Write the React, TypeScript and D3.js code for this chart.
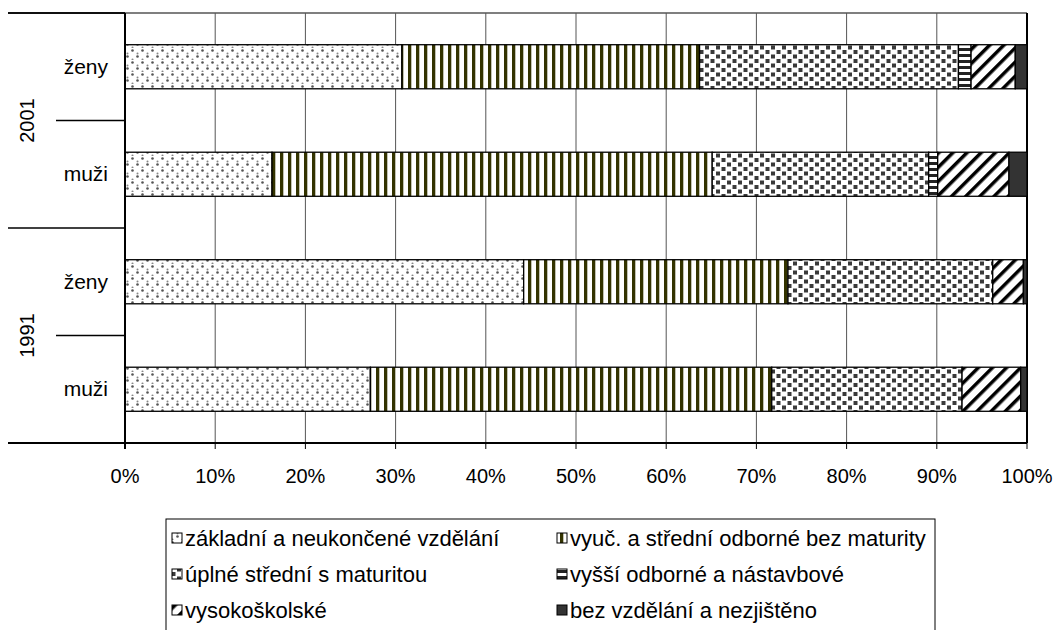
import React from "react";
import * as d3 from "d3";

const categories = ["2001|ženy", "2001|muži", "1991|ženy", "1991|muži"];
const years = ["2001", "1991"];
const seriesNames = [
  "základní a neukončené vzdělání",
  "vyuč. a střední odborné bez maturity",
  "úplné střední s maturitou",
  "vyšší odborné a nástavbové",
  "vysokoškolské",
  "bez vzdělání a nezjištěno",
];
const zakladni = [30.7, 16.3, 44.2, 27.2];
const vyucni = [33.0, 48.8, 29.3, 44.5];
const uplne = [28.7, 24.0, 22.7, 21.1];
const vyssi = [1.4, 1.0, 0.0, 0.0];
const vysoko = [4.9, 7.9, 3.4, 6.5];
const bez = [1.3, 2.0, 0.4, 0.7];
const tickValues = [0, 10, 20, 30, 40, 50, 60, 70, 80, 90, 100];

const seriesValues = [zakladni, vyucni, uplne, vyssi, vysoko, bez];
const patternIds = ["pDots", "pVert", "pCheck", "pHoriz", "pDiag", "pDark"];

const FONT = "'Liberation Sans', Arial, sans-serif";

export default function App() {
  const W = 1056;
  const H = 630;
  const x = d3.scaleLinear().domain([0, 100]).range([125, 1027]);
  const y = d3
    .scaleBand<string>()
    .domain(categories)
    .range([13, 443])
    .paddingInner(0.59)
    .paddingOuter(0.295);

  const rows = categories.map((c, i) => {
    const obj: any = { cat: c };
    seriesValues.forEach((s, k) => (obj["s" + k] = s[i]));
    return obj;
  });
  const stack = d3.stack<any>().keys(seriesValues.map((_, k) => "s" + k));
  const stacked = stack(rows);

  const step = y.step();
  const top = 13;
  const bottom = 443;

  const legendCols = [172, 557];
  const legendRows = [538, 574, 610];

  return (
    <svg width={W} height={H} style={{ display: "block", position: "absolute", left: 0, top: 0 }}>
      <defs>
        <pattern id="pDots" width="10" height="12" patternUnits="userSpaceOnUse">
          <rect width="10" height="12" fill="#fff" />
          <circle cx="2.5" cy="2.5" r="1.3" fill="#555" />
          <circle cx="7.5" cy="8.5" r="1.3" fill="#555" />
          <circle cx="7.5" cy="5.5" r="1" fill="#888" />
          <circle cx="2.5" cy="11.5" r="1" fill="#888" />
        </pattern>
        <pattern id="pVert" width="8" height="8" patternUnits="userSpaceOnUse">
          <rect width="8" height="8" fill="#fff" />
          <rect x="0" width="3.3" height="8" fill="#333300" />
        </pattern>
        <pattern id="pCheck" width="11" height="9" patternUnits="userSpaceOnUse">
          <rect width="11" height="9" fill="#fff" />
          <rect x="1" y="0.5" width="4" height="4" fill="#3a3a3a" />
          <rect x="6.5" y="5" width="4" height="4" fill="#3a3a3a" />
        </pattern>
        <pattern id="pHoriz" width="6" height="6" patternUnits="userSpaceOnUse">
          <rect width="6" height="6" fill="#fff" />
          <rect y="0" width="6" height="3" fill="#222" />
        </pattern>
        <pattern id="pDiag" width="10" height="10" patternUnits="userSpaceOnUse" patternTransform="rotate(45)">
          <rect width="10" height="10" fill="#fff" />
          <rect x="0" width="3.5" height="10" fill="#000" />
        </pattern>
        <pattern id="pDark" width="4" height="4" patternUnits="userSpaceOnUse">
          <rect width="4" height="4" fill="#333" />
        </pattern>
      </defs>
      <rect width={W} height={H} fill="#fff" />

      {/* vertical gridlines */}
      {tickValues.map((t) => (
        <line key={"g" + t} x1={x(t)} x2={x(t)} y1={top} y2={bottom} stroke="#555" strokeWidth={1} />
      ))}
      {/* top border */}
      <line x1={8} x2={125} y1={top} y2={top} stroke="#000" strokeWidth={1.5} />
      <line x1={125} x2={1027} y1={top} y2={top} stroke="#555" strokeWidth={1.5} />
      {/* right border */}
      <line x1={1027} x2={1027} y1={top} y2={bottom} stroke="#000" strokeWidth={2} />

      {/* bars */}
      {stacked.map((layer, k) => (
        <g key={"s" + k}>
          {layer.map((d, i) => {
            const w = x(d[1]) - x(d[0]);
            if (w <= 0.01) return null;
            return (
              <rect
                key={i}
                x={x(d[0])}
                y={y(categories[i])}
                width={w}
                height={y.bandwidth()}
                fill={`url(#${patternIds[k]})`}
                stroke="#000"
                strokeWidth={1.3}
              />
            );
          })}
        </g>
      ))}

      {/* axes */}
      <line x1={125} x2={125} y1={top} y2={bottom + 6} stroke="#000" strokeWidth={2} />
      <line x1={8} x2={1027} y1={bottom} y2={bottom} stroke="#000" strokeWidth={2} />
      {tickValues.map((t) => (
        <line key={"t" + t} x1={x(t)} x2={x(t)} y1={bottom} y2={bottom + 6} stroke="#000" strokeWidth={1} />
      ))}
      {tickValues.map((t) => (
        <text
          key={"l" + t}
          x={x(t)}
          y={483}
          textAnchor="middle"
          fontFamily={FONT}
          fontSize={20}
          fill="#000"
        >
          {t + "%"}
        </text>
      ))}

      {/* category separators */}
      {[0, 1, 2, 3, 4].map((i) => {
        const yy = top + i * step;
        const outer = i % 2 === 0;
        return (
          <line
            key={"sep" + i}
            x1={outer ? 8 : 56}
            x2={125}
            y1={yy}
            y2={yy}
            stroke="#000"
            strokeWidth={1.5}
          />
        );
      })}
      {categories.map((c) => (
        <text
          key={"c" + c}
          x={108}
          y={(y(c) as number) + y.bandwidth() / 2 + 7}
          textAnchor="end"
          fontFamily={FONT}
          fontSize={21}
        >
          {c.split("|")[1]}
        </text>
      ))}
      {years.map((yr, i) => {
        const cy = top + step * (2 * i + 1);
        return (
          <text
            key={"y" + yr}
            transform={`translate(34,${cy}) rotate(-90)`}
            textAnchor="middle"
            fontFamily={FONT}
            fontSize={20}
          >
            {yr}
          </text>
        );
      })}

      {/* legend */}
      <rect x={166} y={519} width={769} height={140} fill="none" stroke="#000" strokeWidth={1} />
      {seriesNames.map((name, k) => {
        const col = k % 2;
        const row = Math.floor(k / 2);
        const lx = legendCols[col];
        const ly = legendRows[row];
        return (
          <g key={"lg" + k}>
            <rect
              x={lx}
              y={ly - 5}
              width={10}
              height={10}
              fill={`url(#${patternIds[k]})`}
              stroke="#000"
              strokeWidth={1}
            />
            <text x={lx + 13} y={ly + 8} fontFamily={FONT} fontSize={22}>
              {name}
            </text>
          </g>
        );
      })}
    </svg>
  );
}
